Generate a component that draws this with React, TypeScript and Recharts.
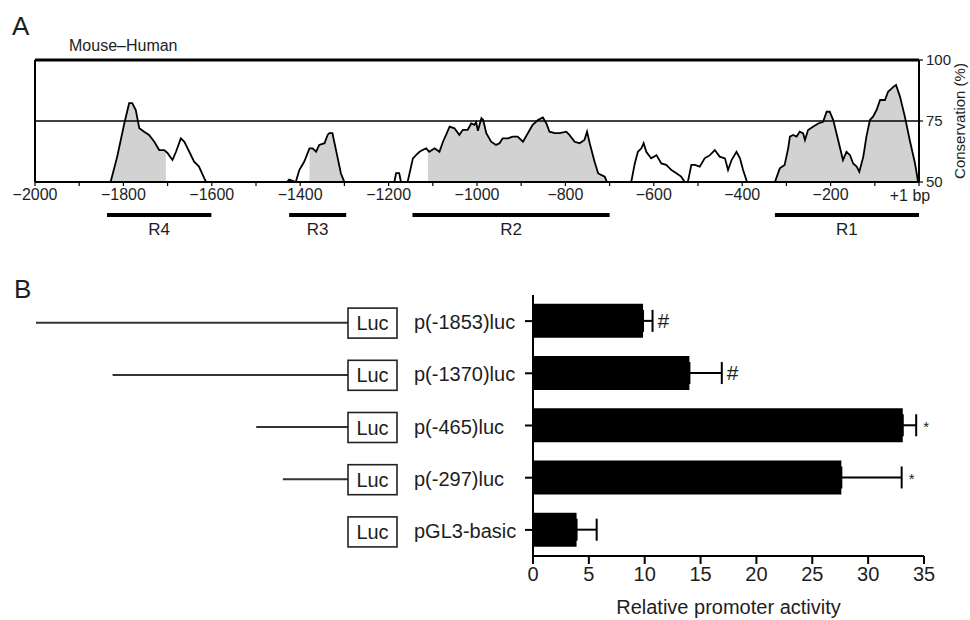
import React from 'react';
import {
  ComposedChart,
  Area,
  Line,
  XAxis,
  YAxis,
  ReferenceLine,
  ReferenceArea,
  Bar,
  ErrorBar,
  LabelList,
} from 'recharts';

const FONT = "'Liberation Sans', Arial, Helvetica, sans-serif";
const INK = '#1e1e1e';

// ---------- Panel A: mouse–human conservation ----------
const consPosition = [
  -2000, -1829, -1814, -1798, -1787, -1780, -1772, -1764, -1753, -1742, -1730, -1719, -1708, -1704,
  -1700, -1689, -1681, -1670, -1662, -1651, -1640, -1629, -1617, -1613,
  -1430, -1425, -1410, -1402, -1391, -1379, -1372, -1364, -1357, -1345, -1338, -1334, -1327, -1323,
  -1315, -1308, -1300,
  -1187, -1183, -1176, -1172, -1157, -1145, -1138, -1130, -1123, -1115, -1111, -1108, -1096, -1085,
  -1077, -1070, -1062, -1051, -1040, -1032, -1021, -1013, -1006, -1002, -998, -990, -986, -979,
  -968, -957, -949, -942, -930, -919, -908, -896, -885, -874, -862, -851, -843, -836, -824, -813,
  -798, -791, -779, -768, -757, -751, -745, -734, -726, -719, -711, -706,
  -651, -643, -636, -628, -623, -617, -606, -594, -583, -572, -560, -549, -538, -530,
  -523, -515, -507, -496, -485, -473, -462, -451, -439, -432, -424, -413, -405, -398, -389,
  -326, -315, -304, -296, -292, -285, -277, -270, -262, -258, -251, -239, -228, -217, -209, -202,
  -194, -183, -172, -164, -156, -149, -141, -135, -126, -119, -111, -104, -96, -88, -77, -70, -58,
  -52, -43, -32, -21, -9, -2, 0,
];
const consValue = [
  50, 50, 60.4, 74, 82.3, 82.3, 79.5, 72, 70.6, 69.3, 66.5, 63.1, 63.1, 62.5,
  61.8, 59, 62.4, 67.9, 66.5, 62.4, 58.3, 56.3, 51.5, 50,
  50, 51, 50, 54.9, 58.3, 63.8, 63.8, 62.4, 65.2, 65.9, 69.3, 70, 70, 66.5,
  59.7, 53.6, 50,
  50, 53.6, 53.6, 50, 50, 59.7, 61, 62.4, 63.1, 63.8, 63, 62.4, 63.8, 62.4,
  66.5, 69.3, 72.7, 72, 69.3, 71.4, 71.4, 74, 73.4, 74.5, 71, 76.1, 75.4, 70,
  66.5, 65.2, 65.9, 67.9, 67.9, 68.6, 68.6, 66.5, 70, 73.4, 75.4, 76.5, 74, 70.6, 70, 70,
  70.6, 69.3, 66.5, 65.9, 67.2, 70.6, 65.9, 58.3, 53.6, 52.9, 52.2, 50,
  50, 57.6, 62.4, 63.8, 65.9, 62.4, 59.7, 61, 57.6, 57, 54.9, 53.6, 52.2, 50,
  50, 57, 57, 56.3, 59.7, 61, 63.1, 60.4, 59.7, 54.9, 59, 62.4, 59.7, 54.9, 50,
  50, 55.6, 57, 63.8, 68.6, 69.3, 68.6, 70.6, 69.9, 67.2, 71.3, 72.7, 74, 74.7, 78.8, 78.8,
  75.4, 67.2, 59, 62.4, 61, 57.6, 56.3, 54.2, 60.4, 68.6, 75.4, 76.8, 79.5, 83.6, 83.6, 87, 89,
  89.8, 85, 76.8, 67.2, 57.6, 50, 50,
];
const shadedStart = [-1829, -1379, -1111, -326];
const shadedEnd = [-1704, -1300, -706, 0];

const regionNames = ['R4', 'R3', 'R2', 'R1'];
const regionStart = [-1837, -1425, -1146, -326];
const regionEnd = [-1601, -1296, -700, 0];

const positionTicks = [
  -2000, -1900, -1800, -1700, -1600, -1500, -1400, -1300, -1200, -1100, -1000,
  -900, -800, -700, -600, -500, -400, -300, -200, -100, 0,
];
const conservationTicks = [50, 75, 100];

const consData = consPosition.map((bp, i) => {
  const v = consValue[i];
  const shaded = shadedStart.some((a, k) => bp >= a && bp <= shadedEnd[k]);
  return { bp, cons: v, shade: shaded ? v : null };
});

const formatPosition = (v: number) => {
  if (v === 0) return '+1 bp';
  if (v % 200 !== 0) return '';
  return '\u2212' + Math.abs(v);
};

const PositionTick = (props: any) => {
  const { x, y, payload } = props;
  const label = formatPosition(payload.value);
  if (!label) return null;
  const last = payload.value === 0;
  return (
    <text
      x={x + (last ? -9 : 0)}
      y={y + (last ? 1 : 0)}
      dy="0.71em"
      textAnchor="middle"
      fontSize={16}
      fill={INK}
      fontFamily={FONT}
    >
      {label}
    </text>
  );
};

// ---------- Panel B: promoter activity ----------
const constructNames = ['p(-1853)luc', 'p(-1370)luc', 'p(-465)luc', 'p(-297)luc', 'pGL3-basic'];
const constructStart: (number | null)[] = [-1853, -1370, -465, -297, null];
const activityValues = [9.85, 14.0, 33.1, 27.6, 3.9];
const activityErrors = [0.85, 2.9, 1.2, 5.4, 1.8];
const significanceMarks = ['#', '#', '*', '*', ''];
const activityTicks = [0, 5, 10, 15, 20, 25, 30, 35];

const barData = constructNames.map((name, i) => ({
  name,
  value: activityValues[i],
  errRange: [0, activityErrors[i]],
}));

const ConstructTick = (props: any) => {
  const { x, y, payload } = props;
  const i = constructNames.indexOf(payload.value);
  const start = constructStart[i];
  const textX = x - 111;
  const boxR = x - 128;
  const boxW = 49;
  const boxL = boxR - boxW;
  const len = start == null ? 0 : 18 + 0.1587 * Math.abs(start);
  return (
    <g>
      {len > 0 && (
        <line x1={boxL - len} x2={boxL} y1={y + 1.6} y2={y + 1.6} stroke="#333" strokeWidth={2} />
      )}
      <rect x={boxL} y={y - 13} width={boxW} height={30} fill="#fff" stroke="#222" strokeWidth={1.6} />
      <text x={boxL + boxW / 2} y={y + 9} textAnchor="middle" fontSize={20} fill={INK} fontFamily={FONT}>
        Luc
      </text>
      <text x={textX} y={y + 8} textAnchor="start" fontSize={20} fill={INK} fontFamily={FONT}>
        {payload.value}
      </text>
    </g>
  );
};

const renderMark = (props: any) => {
  const vb = props.viewBox && props.viewBox.width !== undefined ? props.viewBox : props;
  const { x, y, width, height } = vb;
  const i = constructNames.indexOf(props.value);
  if (i < 0) return null;
  const mark = significanceMarks[i];
  if (!mark) return null;
  const end = x + (width * (activityValues[i] + activityErrors[i])) / activityValues[i];
  const isHash = mark === '#';
  return (
    <text
      x={end + (isHash ? 5 : 7)}
      y={y + height / 2 + 7}
      fontSize={isHash ? 21 : 15}
      fill={INK}
      fontFamily={FONT}
      textAnchor="start"
    >
      {mark}
    </text>
  );
};

export default function App() {
  return (
    <div
      style={{
        position: 'absolute',
        left: 0,
        top: 0,
        width: 970,
        height: 620,
        background: '#fff',
        fontFamily: FONT,
        overflow: 'hidden',
      }}
    >
      {/* Panel A */}
      <div style={{ position: 'absolute', left: 0, top: 0 }}>
        <ComposedChart
          width={970}
          height={262}
          data={consData}
          margin={{ top: 60, right: 1, bottom: 50, left: 35 }}
        >
          <XAxis
            dataKey="bp"
            type="number"
            domain={[-2000, 0]}
            ticks={positionTicks}
            interval={0}
            height={30}
            tickSize={4}
            tickMargin={3}
            axisLine={{ stroke: '#000', strokeWidth: 2 }}
            tickLine={{ stroke: '#000', strokeWidth: 1.2 }}
            tick={<PositionTick />}
          />
          <YAxis
            orientation="right"
            type="number"
            domain={[50, 100]}
            ticks={conservationTicks}
            interval={0}
            width={50}
            tickSize={4}
            tickMargin={3}
            axisLine={{ stroke: '#000', strokeWidth: 2 }}
            tickLine={{ stroke: '#000', strokeWidth: 1.2 }}
            tick={{ fontSize: 15, fill: INK, fontFamily: FONT }}
            label={{
              value: 'Conservation (%)',
              angle: -90,
              position: 'center',
              dx: 16,
              fontSize: 15,
              fill: INK,
              fontFamily: FONT,
            }}
          />
          <ReferenceLine y={100} stroke="#000" strokeWidth={3} ifOverflow="visible" />
          <ReferenceLine x={-2000} stroke="#000" strokeWidth={2} ifOverflow="visible" />
          <Area
            dataKey="shade"
            type="linear"
            fill="#d2d2d2"
            fillOpacity={1}
            stroke="none"
            baseValue={50}
            connectNulls={false}
            dot={false}
            activeDot={false}
            isAnimationActive={false}
          />
          <ReferenceLine y={75} stroke="#000" strokeWidth={1.3} />
          <Line
            dataKey="cons"
            type="linear"
            stroke="#000"
            strokeWidth={1.8}
            dot={false}
            activeDot={false}
            isAnimationActive={false}
          />
          {regionNames.map((r, i) => (
            <ReferenceArea
              key={r}
              x1={regionStart[i]}
              x2={regionEnd[i]}
              y1={35.7}
              y2={37.3}
              ifOverflow="visible"
              fill="#000"
              fillOpacity={1}
              stroke="none"
              label={{ value: r, position: 'bottom', offset: 6, fontSize: 17, fill: INK, fontFamily: FONT }}
            />
          ))}
        </ComposedChart>
      </div>

      {/* Panel B */}
      <div style={{ position: 'absolute', left: 0, top: 270 }}>
        <ComposedChart
          layout="vertical"
          width={970}
          height={350}
          data={barData}
          margin={{ top: 25, right: 46, bottom: 0, left: 0 }}
          barCategoryGap="17%"
        >
          <XAxis
            type="number"
            domain={[0, 35]}
            ticks={activityTicks}
            interval={0}
            height={64}
            tickSize={8}
            tickMargin={3}
            axisLine={{ stroke: '#000', strokeWidth: 2 }}
            tickLine={{ stroke: '#000', strokeWidth: 2 }}
            tick={{ fontSize: 20, fill: INK, fontFamily: FONT }}
            label={{
              value: 'Relative promoter activity',
              position: 'insideBottom',
              offset: 6,
              fontSize: 20,
              fill: INK,
              fontFamily: FONT,
            }}
          />
          <YAxis
            type="category"
            dataKey="name"
            width={533}
            tickSize={8}
            tickMargin={0}
            interval={0}
            axisLine={{ stroke: '#000', strokeWidth: 2 }}
            tickLine={{ stroke: '#000', strokeWidth: 2 }}
            tick={<ConstructTick />}
          />
          <Bar dataKey="value" fill="#000" isAnimationActive={false}>
            <ErrorBar dataKey="errRange" direction="x" width={11} stroke="#000" strokeWidth={2} />
            <LabelList dataKey="name" content={renderMark} />
          </Bar>
        </ComposedChart>
      </div>

      {/* Panel letters and header */}
      <svg
        width={970}
        height={620}
        style={{ position: 'absolute', left: 0, top: 0, pointerEvents: 'none' }}
      >
        <text x={12} y={35} fontSize={26} fill={INK} fontFamily={FONT}>
          A
        </text>
        <text x={69} y={51} fontSize={16} fill={INK} fontFamily={FONT}>
          Mouse–Human
        </text>
        <text x={14} y={298} fontSize={26} fill={INK} fontFamily={FONT}>
          B
        </text>
      </svg>
    </div>
  );
}
